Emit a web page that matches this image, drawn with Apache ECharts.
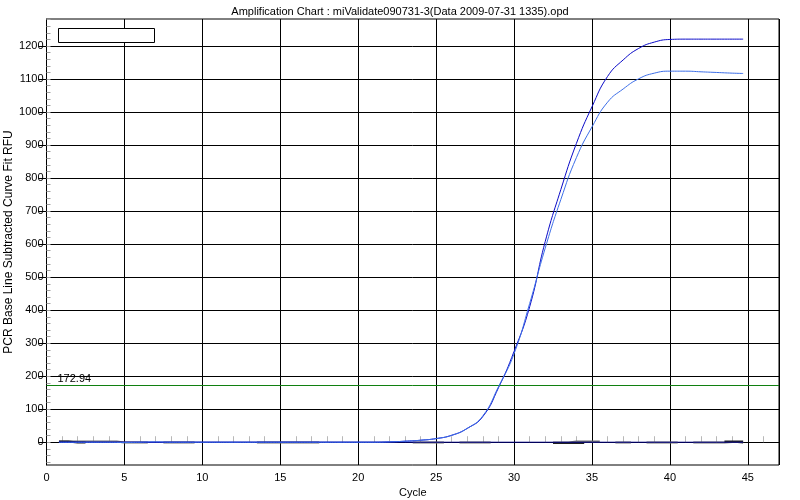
<!DOCTYPE html>
<html><head><meta charset="utf-8">
<script src="https://cdn.jsdelivr.net/npm/echarts@6/dist/echarts.min.js"></script>
<style>html,body{margin:0;padding:0;background:#fff}#c{width:800px;height:500px}</style>
</head><body><div id="c"></div>
<script>
const titleText = 'Amplification Chart : miValidate090731-3(Data 2009-07-31 1335).opd';
const cycles = [0.8,2,3,4,5,6,7,8,9,10,11,12,13,14,15,16,17,18,19,20,21,22,23,24,25,26,27,28,29,30,31,32,33,34,35,36,37,38,39,40,41,42,43,44,44.7];
const wellA = [0,0,0,0,0,0,0,0,0,0,0,0,0,0,0,0,0,0,0,0,0,1,3,6,11,21,42,78,165,275,410,608,765,905,1016,1108,1158,1193,1212,1220,1221,1221,1221,1221,1221];
const wellB = [0,0,0,0,-1,0,1,0,0,0,0,0,0,0,0,0,0,0,0,0,0,1,3,6,11,21,42,80,168,268,420,588,735,862,955,1030,1070,1101,1118,1124,1124,1122,1120,1118,1117];
const baseGray = [2,2,2,2,-1,-1,null,-1,-1,null,null,null,null,-1,-1,-1,-1,null,null,null,null,null,null,-1,-1,null,-1,-1,null,null,null,null,-1,2,2,null,-1,null,-1,-1,null,-1,-1,1,-2];
const baseBlack = [2,-1,null,null,null,null,null,null,null,null,null,null,null,null,null,null,null,null,null,null,null,null,null,null,null,null,null,null,null,null,null,null,-2,-2,null,null,null,null,null,null,null,null,null,2,2];
const baseNavy = [0,0,0,0,0,0,0,0,0,0,0,0,0,0,0,0,0,0,0,0,0,0,0,0,0,0,0,0,0,0,0,0,0,0,0,0,0,0,0,0,0,0,0,0,0];
const threshold = 172.94;
const yMajor = [0,100,200,300,400,500,600,700,800,900,1000,1100,1200];
const yMinor = [];
for (let v = -60; v <= 1280; v += 20) yMinor.push(v);

const pairs = arr => cycles.map((c, i) => [c, arr[i]]);
const FONT = 'Liberation Sans';
const chart = echarts.init(document.getElementById('c'), null, {renderer: 'canvas'});
chart.setOption({
  animation: false,
  backgroundColor: '#fff',
  textStyle: {fontFamily: FONT},
  title: {text: titleText, left: 'center', top: 1, textStyle: {fontSize: 11, fontWeight: 'normal', color: '#000', fontFamily: FONT}},
  grid: {left: 46.5, right: 21, top: 19, bottom: 35, outerBoundsMode: 'none', containLabel: false, show: true, borderColor: '#000', borderWidth: 1, backgroundColor: '#fff'},
  graphic: [{type: 'rect', shape: {x: 58.5, y: 28.5, width: 96, height: 14}, style: {fill: '#fff', stroke: '#000', lineWidth: 1}, z: 100}],
  xAxis: [{
    type: 'value', min: 0, max: 47, interval: 5,
    name: 'Cycle', nameLocation: 'middle', nameGap: 22, nameMoveOverlap: false, nameTextStyle: {fontSize: 11, color: '#000'},
    axisLine: {show: true, lineStyle: {color: '#000'}},
    axisTick: {show: true, length: 8, lineStyle: {color: '#000'}},
    axisLabel: {fontSize: 11, color: '#000', margin: 7, showMaxLabel: false},
    splitLine: {show: true, lineStyle: {color: '#000', width: 1}}
  }, {
    type: 'value', min: 0, max: 47, interval: 5, position: 'bottom',
    axisLine: {show: false}, axisLabel: {show: false}, splitLine: {show: false},
    axisTick: {show: false, inside: true},
    minorTick: {show: true, splitNumber: 5, length: 6, lineStyle: {color: '#b8b8b8'}}
  }],
  yAxis: [{
    type: 'value', min: -69, max: 1282,
    name: 'PCR Base Line Subtracted Curve Fit RFU', nameLocation: 'middle', nameGap: 32, nameMoveOverlap: false, nameTextStyle: {fontSize: 12, color: '#000'},
    axisLine: {show: true, lineStyle: {color: '#000'}},
    axisTick: {show: true, length: 8, customValues: yMajor, lineStyle: {color: '#000'}},
    axisLabel: {fontSize: 11, color: '#000', margin: 3, customValues: yMajor, formatter: v => String(v)},
    splitLine: {show: true, lineStyle: {color: '#000', width: 1}}
  }, {
    type: 'value', min: -69, max: 1282, position: 'left', offset: 0,
    axisLine: {show: false}, axisLabel: {show: false}, splitLine: {show: false},
    axisTick: {show: true, inside: true, length: 4, customValues: yMinor, lineStyle: {color: '#a0a0a0'}}
  }],
  series: [
    {type: 'line', name: 'gray', data: pairs(baseGray), step: 'middle', symbol: 'none', lineStyle: {color: '#707070', width: 2}},
    {type: 'line', name: 'black', data: pairs(baseBlack), step: 'middle', symbol: 'none', lineStyle: {color: '#202020', width: 2}},
    {type: 'line', name: 'navy', data: pairs(baseNavy), symbol: 'none', z: 3, lineStyle: {color: '#000080', width: 1},
      markLine: {silent: true, symbol: 'none', data: [{yAxis: threshold}], lineStyle: {color: '#108010', width: 1, type: 'solid', opacity: 1},
        emphasis: {disabled: true},
        label: {show: true, position: 'insideStartTop', formatter: '172.94', color: '#000', fontSize: 11, distance: [11, 1]}}},
    {type: 'line', name: 'A', data: pairs(wellA), symbol: 'none', z: 4, smooth: 0.5, lineStyle: {color: '#0a0ac8', width: 1}},
    {type: 'line', name: 'B', data: pairs(wellB), symbol: 'none', z: 5, smooth: 0.5, lineStyle: {color: '#3c6ee8', width: 1}}
  ]
});
</script></body></html>
